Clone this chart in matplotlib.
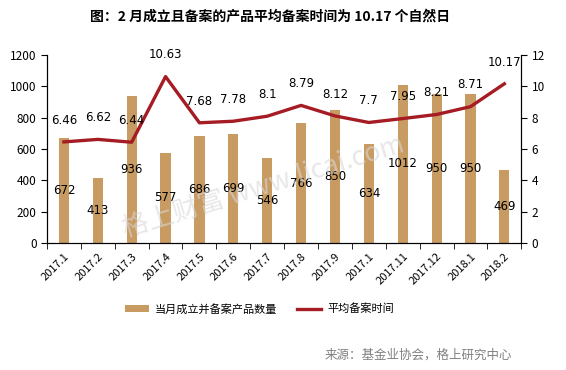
import matplotlib.pyplot as plt
import numpy as np

plt.rcParams['font.family'] = ['Noto Sans CJK SC', 'DejaVu Sans']

months = ['2017.1', '2017.2', '2017.3', '2017.4', '2017.5', '2017.6', '2017.7',
          '2017.8', '2017.9', '2017.1', '2017.11', '2017.12', '2018.1', '2018.2']
counts = [672, 413, 936, 577, 686, 699, 546, 766, 850, 634, 1012, 950, 950, 469]
avg_days = [6.46, 6.62, 6.44, 10.63, 7.68, 7.78, 8.1, 8.79, 8.12, 7.7, 7.95, 8.21, 8.71, 10.17]

bar_color = '#C89B62'
line_color = '#A51C24'

fig = plt.figure(figsize=(5.66, 3.70), dpi=100)
ax = fig.add_axes([0.083, 0.343, 0.838, 0.508])
ax2 = ax.twinx()

x = np.arange(len(months))
ax.bar(x, counts, width=0.3, color=bar_color, label='当月成立并备案产品数量', zorder=2)
for xi, v in zip(x, counts):
    ax.text(xi, v / 2, str(v), ha='center', va='center', fontsize=8.5,
            family=['DejaVu Sans'], zorder=5)

ax2.plot(x, avg_days, color=line_color, lw=2.4, label='平均备案时间', zorder=3)
for xi, v in zip(x, avg_days):
    ax2.annotate(f'{v:g}', (xi, v), xytext=(0, 11), textcoords='offset points',
                 ha='center', va='bottom', fontsize=8.5, family=['DejaVu Sans'])

ax.set_xlim(-0.5, len(months) - 0.5)
ax.set_ylim(0, 1200)
ax.set_yticks(range(0, 1201, 200))
ax2.set_ylim(0, 12)
ax2.set_yticks(range(0, 13, 2))

ax.set_xticks(x)
ax.set_xticklabels(months, rotation=45, ha='right', rotation_mode='anchor', fontsize=8)
ax.set_xticks(np.arange(-0.5, len(months), 1), minor=True)
ax.tick_params(axis='x', which='major', length=0, pad=6)
ax.tick_params(axis='x', which='minor', length=4, direction='out')
ax.tick_params(axis='y', labelsize=8.5, length=4, direction='out')
ax2.tick_params(axis='y', labelsize=8.5, length=4, direction='out')

for a in (ax, ax2):
    a.spines['top'].set_visible(False)
ax2.set_zorder(ax.get_zorder() + 1)
ax2.patch.set_visible(False)

h1, l1 = ax.get_legend_handles_labels()
h2, l2 = ax2.get_legend_handles_labels()
fig.legend(h1 + h2, l1 + l2, loc='center', bbox_to_anchor=(0.458, 0.165), ncol=2,
           frameon=False, fontsize=8, handlelength=2.2, handletextpad=0.5,
           columnspacing=1.8)

fig.text(0.477, 0.955, '图：2 月成立且备案的产品平均备案时间为 10.17 个自然日',
         ha='center', va='center', fontsize=10, fontweight='bold')
fig.text(0.905, 0.04, '来源：基金业协会，格上研究中心', ha='right', va='center',
         fontsize=9, color='#808080')

fig.text(0.466, 0.495, '格上财富 www.licai.com', ha='center', va='center', fontsize=19,
         color='#d8d8d8', alpha=0.6, rotation=17, zorder=10)

fig.savefig('out.png', dpi=100)
